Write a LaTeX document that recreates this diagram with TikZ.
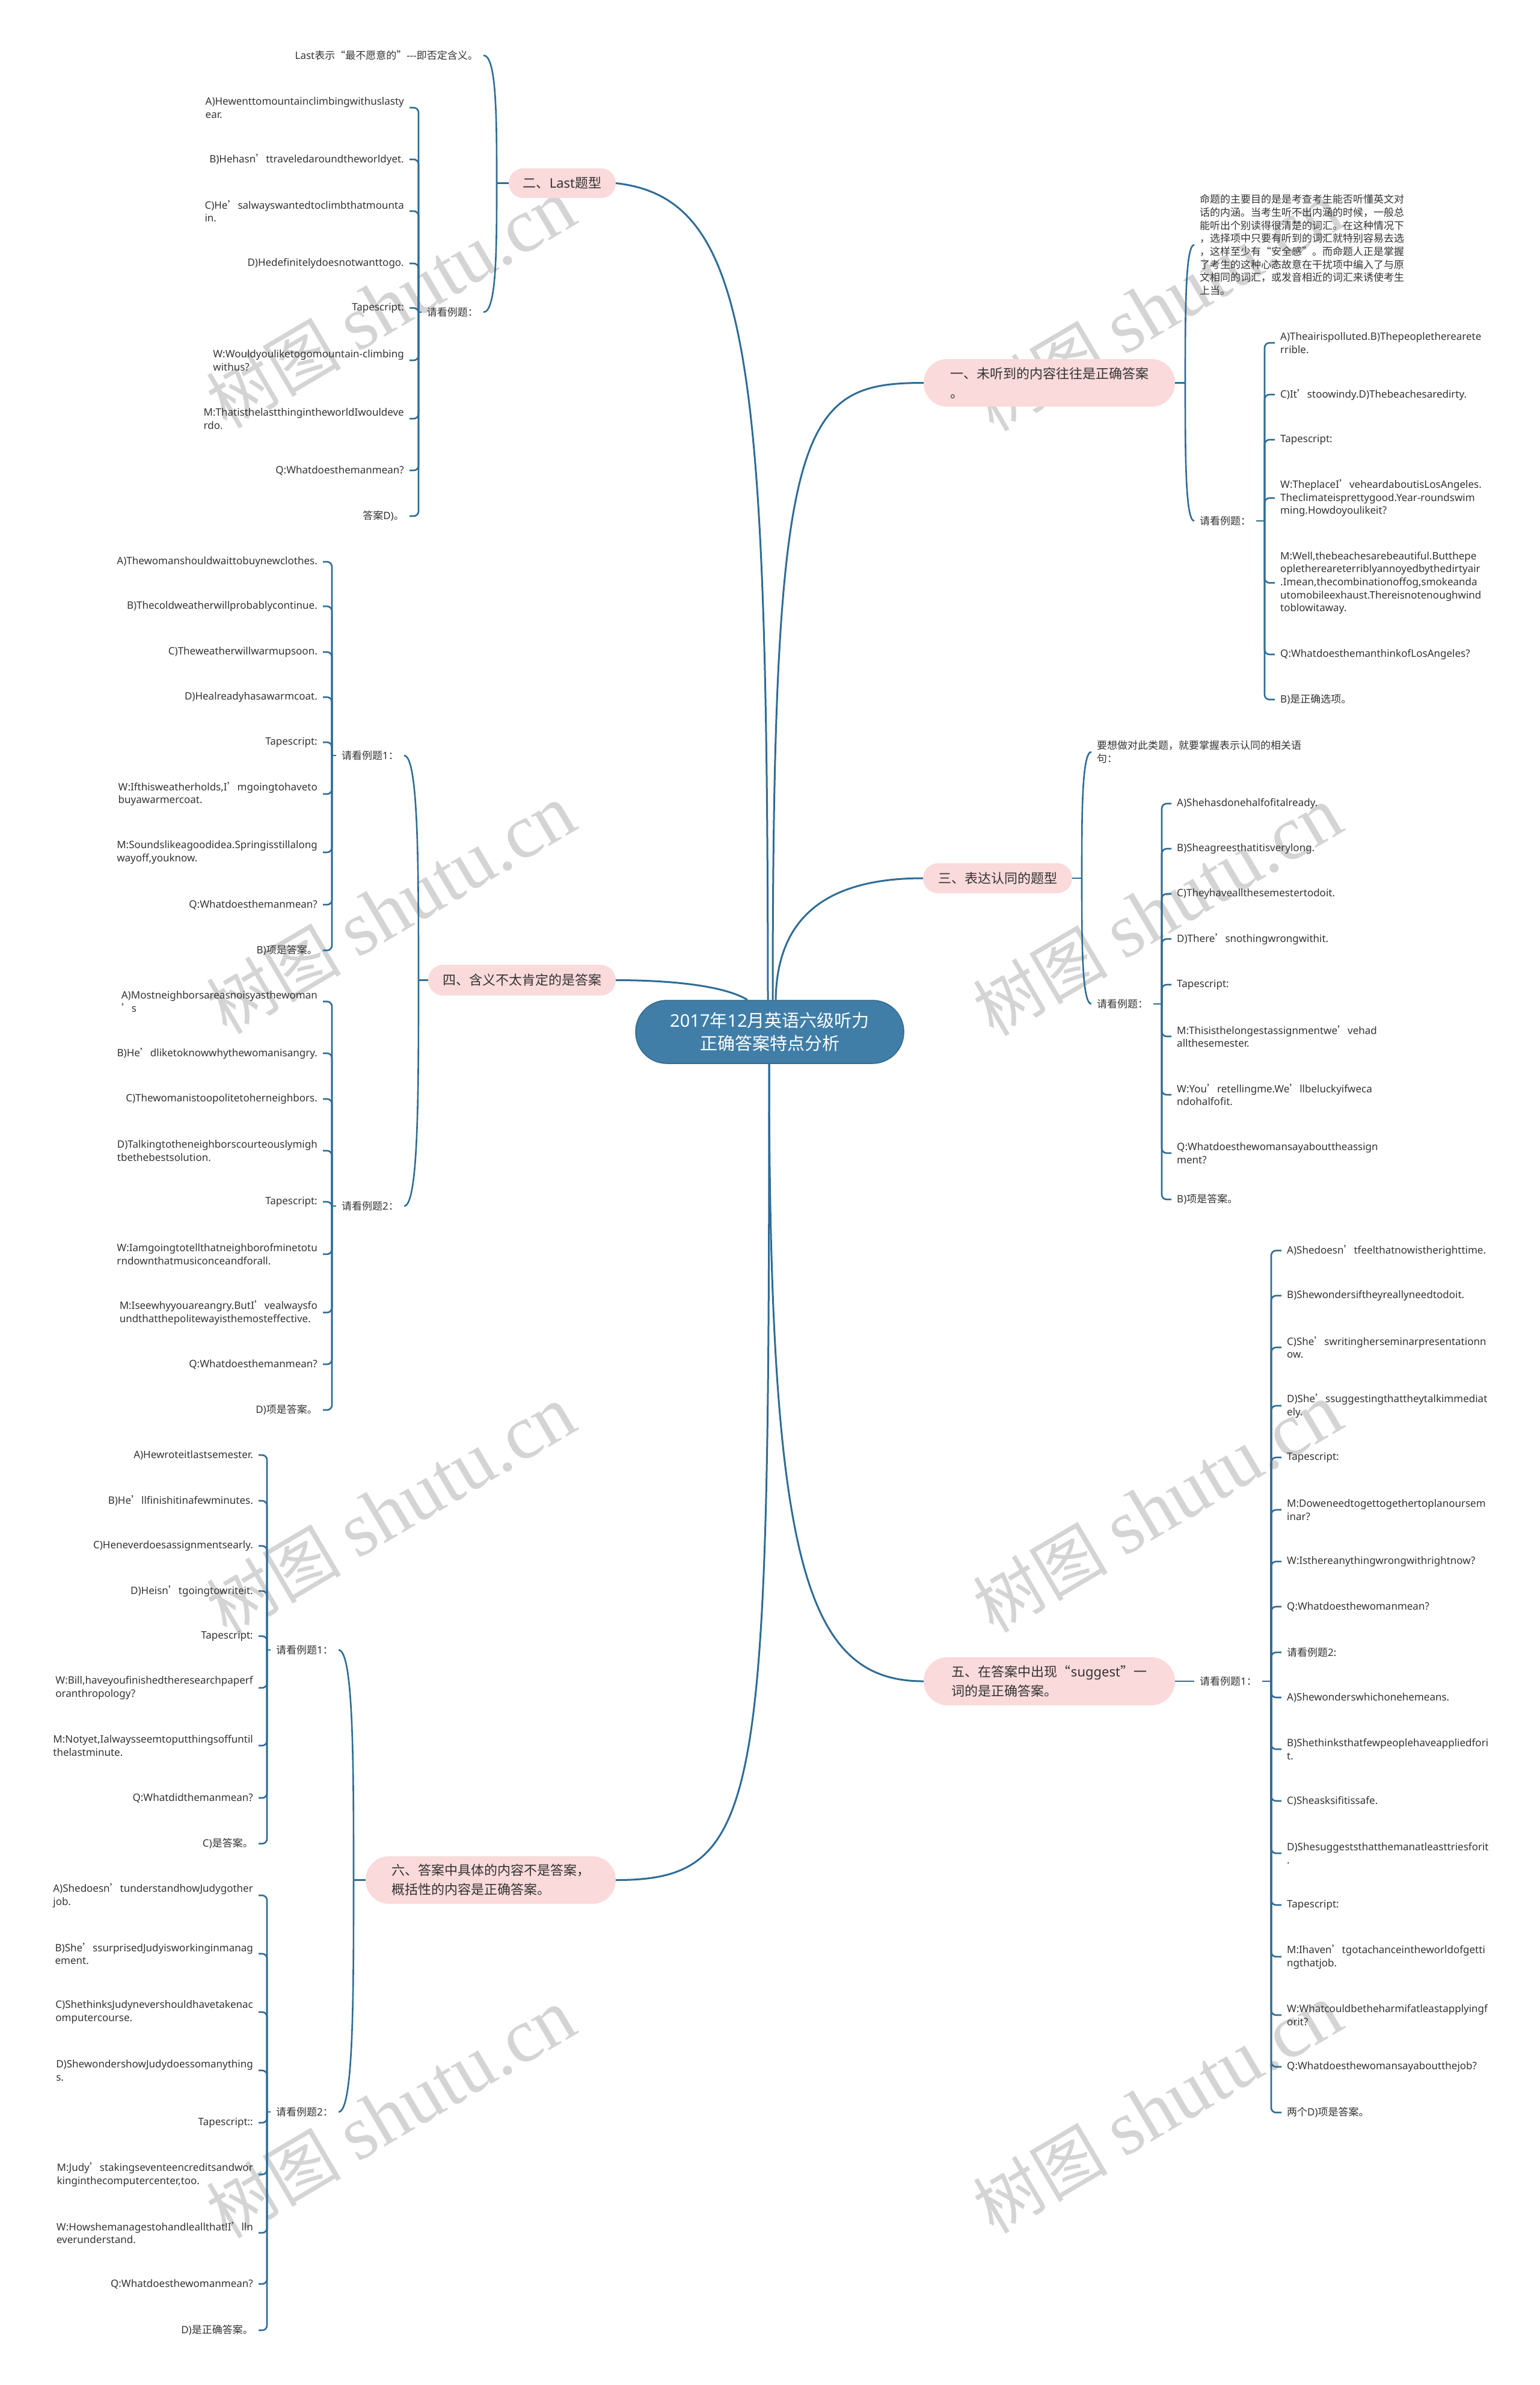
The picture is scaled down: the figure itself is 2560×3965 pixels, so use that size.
\documentclass[tikz,border=0pt]{standalone}
\usepackage{fontspec}
\setmainfont{Noto Sans}
\newfontfamily\cjkfont{Noto Sans CJK SC}
\newfontfamily\latinfont{Noto Sans}
\newfontfamily\wmserif{Liberation Serif}
\newXeTeXintercharclass\mycjkclass
\makeatletter
\newcommand\setcjkrange[2]{%
  \count@=#1\relax
  \loop
    \XeTeXcharclass\count@=\mycjkclass\relax
  \ifnum\count@<#2\relax
    \advance\count@\@ne
  \repeat}
\makeatother
\setcjkrange{"2018}{"201F}
\setcjkrange{"3000}{"303F}
\setcjkrange{"4E00}{"9FFF}
\setcjkrange{"FF00}{"FFEF}
\XeTeXinterchartoks 0 \mycjkclass = {\cjkfont}
\XeTeXinterchartoks 4095 \mycjkclass = {\cjkfont}
\XeTeXinterchartoks \mycjkclass 0 = {\latinfont}
\XeTeXinterchartoks 4095 0 = {\latinfont}
\XeTeXinterchartokenstate=1
\definecolor{lineblue}{HTML}{2E6C96}
\definecolor{rootblue}{HTML}{407EA7}
\definecolor{rootedge}{HTML}{35698C}
\definecolor{pinkfill}{HTML}{FADADB}
\definecolor{txt}{HTML}{333333}
\definecolor{wmgray}{HTML}{D4D4D4}
\tikzset{
  conn/.style={draw=lineblue, line width=2.6pt},
  mainconn/.style={draw=lineblue, line width=3pt},
  brk/.style={conn, rounded corners=8pt},
  lf/.style={font=\latinfont\fontsize{17pt}{21.7pt}\selectfont, text=txt, align=left, inner xsep=9pt, inner ysep=1pt},
  lfR/.style={lf, anchor=west},
  lfL/.style={lf, anchor=east},
  topic/.style={fill=pinkfill, text=txt, font=\latinfont\fontsize{22pt}{32pt}\selectfont, align=left, inner sep=0pt},
  root/.style={fill=rootblue, draw=rootedge, line width=1.5pt, text=white, font=\latinfont\fontsize{29pt}{38pt}\selectfont, align=center, minimum width=446pt, minimum height=105pt, rounded corners=52pt, inner sep=0pt},
  wm/.style={text=wmgray, rotate=30.5, inner sep=0pt}
}
\newcommand\wmtext{{\XeTeXinterchartokenstate=0 \cjkfont\fontsize{112pt}{112pt}\selectfont 树图\hspace{28pt}\wmserif\fontsize{128pt}{128pt}\selectfont shutu.cn}}
\begin{document}
\begin{tikzpicture}[x=1pt,y=-1pt]
\fill[white] (0,0) rectangle (2560,3965);
\useasboundingbox (0,0) rectangle (2560,3965);
% watermarks
\node[wm] (w1) at (650,505) {\wmtext};
\node[wm] (w2) at (1925,510) {\wmtext};
\node[wm] (w3) at (650,1512) {\wmtext};
\node[wm] (w4) at (1925,1515) {\wmtext};
\node[wm] (w5) at (650,2511) {\wmtext};
\node[wm] (w6) at (1925,2507) {\wmtext};
\node[wm] (w7) at (650,3514) {\wmtext};
\node[wm] (w8) at (1925,3506) {\wmtext};

% root
\node[root] (c) at (1280,1715.5) {2017年12月英语六级听力\\正确答案特点分析};

% topics
\node[topic, minimum width=178pt, minimum height=49pt, rounded corners=24pt] (b2) at (935,304.5) {二、Last题型};
\node[topic, minimum width=418pt, minimum height=79pt, rounded corners=39pt] (b1) at (1745,636.5) {一、未听到的内容往往是正确答案\\。};
\node[topic, minimum width=248pt, minimum height=50pt, rounded corners=25pt] (b3) at (1659,1460) {三、表达认同的题型};
\node[topic, minimum width=312pt, minimum height=51pt, rounded corners=25pt] (b4) at (868,1629.5) {四、含义不太肯定的是答案};
\node[topic, minimum width=418pt, minimum height=80pt, rounded corners=40pt] (b5) at (1745,2795) {五、在答案中出现“suggest”一\\词的是正确答案。};
\node[topic, minimum width=416pt, minimum height=79pt, rounded corners=39pt] (b6) at (816,3125.5) {六、答案中具体的内容不是答案，\\概括性的内容是正确答案。};

% main connectors
\draw[mainconn] ([xshift=-3pt]c.north) .. controls (1276,600) and (1250,330) .. (b2.east);
\draw[mainconn] ([xshift=5pt]c.north) .. controls (1285,700) and (1330,636.5) .. (b1.west);
\draw[mainconn] ([xshift=10pt]c.north) .. controls (1292,1520) and (1380,1460) .. (b3.west);
\draw[mainconn] ([xshift=-37pt]c.north) .. controls (1200,1636) and (1100,1629.5) .. (b4.east);
\draw[mainconn] ([xshift=-1pt]c.south) .. controls (1279,2600) and (1340,2795) .. (b5.west);
\draw[mainconn] ([xshift=-1pt]c.south) .. controls (1279,3000) and (1270,3125.5) .. (b6.east);

% ===== 二 =====
\node[lfL] (n2a) at (804,92) {Last表示“最不愿意的”-{}-{}-即否定含义。};
\node[lfL] (n2b) at (804,519) {请看例题：};
\coordinate (j2) at (826,304.5);
\draw[conn] (b2.west) -- (j2);
\draw[conn] (j2) .. controls (826,198) and (826,92) .. (n2a.east);
\draw[conn] (j2) .. controls (826,412) and (826,519) .. (n2b.east);
\node[lfL] (l2a) at (681,179) {A)Hewenttomountainclimbingwithuslasty\\ear.};
\node[lfL] (l2b) at (681,265) {B)Hehasn’ttraveledaroundtheworldyet.};
\node[lfL] (l2c) at (681,351) {C)He’salwayswantedtoclimbthatmounta\\in.};
\node[lfL] (l2d) at (681,438) {D)Hedefinitelydoesnotwanttogo.};
\node[lfL] (l2e) at (681,512) {Tapescript:};
\node[lfL] (l2f) at (681,599) {W:Wouldyouliketogomountain-climbing\\withus?};
\node[lfL] (l2g) at (681,696) {M:ThatisthelastthingintheworldIwouldeve\\rdo.};
\node[lfL] (l2h) at (681,782) {Q:Whatdoesthemanmean?};
\node[lfL] (l2i) at (681,858) {答案D)。};
\coordinate (k2) at (696,519);
\draw[conn] (n2b.west) -- (k2);
\foreach \n in {l2a,l2b,l2c,l2d,l2e,l2f,l2g,l2h,l2i} \draw[brk] (k2) |- (\n.east);

% ===== 一 =====
\node[lfR] (n1a) at (1986,407) {命题的主要目的是是考查考生能否听懂英文对\\话的内涵。当考生听不出内涵的时候，一般总\\能听出个别读得很清楚的词汇。在这种情况下\\，选择项中只要有听到的词汇就特别容易去选\\，这样至少有“安全感”。而命题人正是掌握\\了考生的这种心态故意在干扰项中编入了与原\\文相同的词汇，或发音相近的词汇来诱使考生\\上当。};
\node[lfR] (n1b) at (1986,866) {请看例题：};
\coordinate (j1) at (1971,636.5);
\draw[conn] (b1.east) -- (j1);
\draw[conn] (j1) .. controls (1971,522) and (1971,407) .. (n1a.west);
\draw[conn] (j1) .. controls (1971,751) and (1971,866) .. (n1b.west);
\node[lfR] (l1a) at (2120,570) {A)Theairispolluted.B)Thepeopletherearete\\rrible.};
\node[lfR] (l1b) at (2120,656) {C)It’stoowindy.D)Thebeachesaredirty.};
\node[lfR] (l1c) at (2120,731) {Tapescript:};
\node[lfR] (l1d) at (2120,828) {W:TheplaceI’veheardaboutisLosAngeles.\\Theclimateisprettygood.Year-roundswim\\ming.Howdoyoulikeit?};
\node[lfR] (l1e) at (2120,969) {M:Well,thebeachesarebeautiful.Butthepe\\oplethereareterriblyannoyedbythedirtyair\\.Imean,thecombinationoffog,smokeanda\\utomobileexhaust.Thereisnotenoughwind\\toblowitaway.};
\node[lfR] (l1f) at (2120,1088) {Q:WhatdoesthemanthinkofLosAngeles?};
\node[lfR] (l1g) at (2120,1163) {B)是正确选项。};
\coordinate (k1) at (2103,866);
\draw[conn] (n1b.east) -- (k1);
\foreach \n in {l1a,l1b,l1c,l1d,l1e,l1f,l1g} \draw[brk] (k1) |- (\n.west);

% ===== 三 =====
\node[lfR] (n3a) at (1815,1250) {要想做对此类题，就要掌握表示认同的相关语\\句：};
\node[lfR] (n3b) at (1815,1669) {请看例题：};
\coordinate (j3) at (1799,1460);
\draw[conn] (b3.east) -- (j3);
\draw[conn] (j3) .. controls (1799,1355) and (1799,1250) .. (n3a.west);
\draw[conn] (j3) .. controls (1799,1564) and (1799,1669) .. (n3b.west);
\node[lfR] (l3a) at (1948,1336) {A)Shehasdonehalfofitalready.};
\node[lfR] (l3b) at (1948,1411) {B)Sheagreesthatitisverylong.};
\node[lfR] (l3c) at (1948,1486) {C)Theyhaveallthesemestertodoit.};
\node[lfR] (l3d) at (1948,1561) {D)There’snothingwrongwithit.};
\node[lfR] (l3e) at (1948,1637) {Tapescript:};
\node[lfR] (l3f) at (1948,1723) {M:Thisisthelongestassignmentwe’vehad\\allthesemester.};
\node[lfR] (l3g) at (1948,1820) {W:You’retellingme.We’llbeluckyifweca\\ndohalfofit.};
\node[lfR] (l3h) at (1948,1917) {Q:Whatdoesthewomansayabouttheassign\\ment?};
\node[lfR] (l3i) at (1948,1994) {B)项是答案。};
\coordinate (k3) at (1932,1669);
\draw[conn] (n3b.east) -- (k3);
\foreach \n in {l3a,l3b,l3c,l3d,l3e,l3f,l3g,l3h,l3i} \draw[brk] (k3) |- (\n.west);

% ===== 四 =====
\node[lfL] (n4a) at (672,1256) {请看例题1：};
\node[lfL] (n4b) at (672,2005) {请看例题2：};
\coordinate (j4) at (696,1629.5);
\draw[conn] (b4.west) -- (j4);
\draw[conn] (j4) .. controls (696,1443) and (696,1256) .. (n4a.east);
\draw[conn] (j4) .. controls (696,1817) and (696,2005) .. (n4b.east);
\node[lfL] (l4a) at (537,934) {A)Thewomanshouldwaittobuynewclothes.};
\node[lfL] (l4b) at (537,1008) {B)Thecoldweatherwillprobablycontinue.};
\node[lfL] (l4c) at (537,1084) {C)Theweatherwillwarmupsoon.};
\node[lfL] (l4d) at (537,1159) {D)Healreadyhasawarmcoat.};
\node[lfL] (l4e) at (537,1234) {Tapescript:};
\node[lfL] (l4f) at (537,1320) {W:Ifthisweatherholds,I’mgoingtohaveto\\buyawarmercoat.};
\node[lfL] (l4g) at (537,1417) {M:Soundslikeagoodidea.Springisstillalong\\wayoff,youknow.};
\node[lfL] (l4h) at (537,1504) {Q:Whatdoesthemanmean?};
\node[lfL] (l4i) at (537,1580) {B)项是答案。};
\coordinate (k4) at (552,1256);
\draw[conn] (n4a.west) -- (k4);
\foreach \n in {l4a,l4b,l4c,l4d,l4e,l4f,l4g,l4h,l4i} \draw[brk] (k4) |- (\n.east);
\node[lfL] (m4a) at (537,1665) {A)Mostneighborsareasnoisyasthewoman\\’s};
\node[lfL] (m4b) at (537,1751) {B)He’dliketoknowwhythewomanisangry.};
\node[lfL] (m4c) at (537,1827) {C)Thewomanistoopolitetoherneighbors.};
\node[lfL] (m4d) at (537,1913) {D)Talkingtotheneighborscourteouslymigh\\tbethebestsolution.};
\node[lfL] (m4e) at (537,1998) {Tapescript:};
\node[lfL] (m4f) at (537,2085) {W:Iamgoingtotellthatneighborofminetotu\\rndownthatmusiconceandforall.};
\node[lfL] (m4g) at (537,2182) {M:Iseewhyyouareangry.ButI’vealwaysfo\\undthatthepolitewayisthemosteffective.};
\node[lfL] (m4h) at (537,2268) {Q:Whatdoesthemanmean?};
\node[lfL] (m4i) at (537,2344) {D)项是答案。};
\coordinate (q4) at (552,2005);
\draw[conn] (n4b.west) -- (q4);
\foreach \n in {m4a,m4b,m4c,m4d,m4e,m4f,m4g,m4h,m4i} \draw[brk] (q4) |- (\n.east);

% ===== 五 =====
\node[lfR] (n5a) at (1986,2795) {请看例题1：};
\draw[conn] (b5.east) -- (n5a.west);
\node[lfR] (l5a) at (2131,2079) {A)Shedoesn’tfeelthatnowistherighttime.};
\node[lfR] (l5b) at (2131,2154) {B)Shewondersiftheyreallyneedtodoit.};
\node[lfR] (l5c) at (2131,2240) {C)She’swritingherseminarpresentationn\\ow.};
\node[lfR] (l5d) at (2131,2337) {D)She’ssuggestingthattheytalkimmediat\\ely.};
\node[lfR] (l5e) at (2131,2423) {Tapescript:};
\node[lfR] (l5f) at (2131,2510) {M:Doweneedtogettogethertoplanoursem\\inar?};
\node[lfR] (l5g) at (2131,2596) {W:Isthereanythingwrongwithrightnow?};
\node[lfR] (l5h) at (2131,2671) {Q:Whatdoesthewomanmean?};
\node[lfR] (l5i) at (2131,2747) {请看例题2:};
\node[lfR] (l5j) at (2131,2822) {A)Shewonderswhichonehemeans.};
\node[lfR] (l5k) at (2131,2908) {B)Shethinksthatfewpeoplehaveappliedfori\\t.};
\node[lfR] (l5l) at (2131,2994) {C)Sheasksifitissafe.};
\node[lfR] (l5m) at (2131,3081) {D)Shesuggeststhatthemanatleasttriesforit\\.};
\node[lfR] (l5n) at (2131,3167) {Tapescript:};
\node[lfR] (l5o) at (2131,3253) {M:Ihaven’tgotachanceintheworldofgetti\\ngthatjob.};
\node[lfR] (l5p) at (2131,3350) {W:Whatcouldbetheharmifatleastapplyingf\\orit?};
\node[lfR] (l5q) at (2131,3436) {Q:Whatdoesthewomansayaboutthejob?};
\node[lfR] (l5r) at (2131,3512) {两个D)项是答案。};
\coordinate (k5) at (2114,2795);
\draw[conn] (n5a.east) -- (k5);
\foreach \n in {l5a,l5b,l5c,l5d,l5e,l5f,l5g,l5h,l5i,l5j,l5k,l5l,l5m,l5n,l5o,l5p,l5q,l5r} \draw[brk] (k5) |- (\n.west);

% ===== 六 =====
\node[lfL] (n6a) at (563,2743) {请看例题1：};
\node[lfL] (n6b) at (563,3511) {请看例题2：};
\coordinate (j6) at (588,3125.5);
\draw[conn] (b6.west) -- (j6);
\draw[conn] (j6) .. controls (588,2934) and (588,2743) .. (n6a.east);
\draw[conn] (j6) .. controls (588,3318) and (588,3511) .. (n6b.east);
\node[lfL] (l6a) at (430,2419) {A)Hewroteitlastsemester.};
\node[lfL] (l6b) at (430,2495) {B)He’llfinishitinafewminutes.};
\node[lfL] (l6c) at (430,2570) {C)Heneverdoesassignmentsearly.};
\node[lfL] (l6d) at (430,2645) {D)Heisn’tgoingtowriteit.};
\node[lfL] (l6e) at (430,2720) {Tapescript:};
\node[lfL] (l6f) at (430,2806) {W:Bill,haveyoufinishedtheresearchpaperf\\oranthropology?};
\node[lfL] (l6g) at (430,2902) {M:Notyet,Ialwaysseemtoputthingsoffuntil\\thelastminute.};
\node[lfL] (l6h) at (430,2989) {Q:Whatdidthemanmean?};
\node[lfL] (l6i) at (430,3065) {C)是答案。};
\coordinate (k6) at (444,2743);
\draw[conn] (n6a.west) -- (k6);
\foreach \n in {l6a,l6b,l6c,l6d,l6e,l6f,l6g,l6h,l6i} \draw[brk] (k6) |- (\n.east);
\node[lfL] (m6a) at (430,3151) {A)Shedoesn’tunderstandhowJudygother\\job.};
\node[lfL] (m6b) at (430,3248) {B)She’ssurprisedJudyisworkinginmanag\\ement.};
\node[lfL] (m6c) at (430,3345) {C)ShethinksJudynevershouldhavetakenac\\omputercourse.};
\node[lfL] (m6d) at (430,3442) {D)ShewondershowJudydoessomanything\\s.};
\node[lfL] (m6e) at (430,3529) {Tapescript::};
\node[lfL] (m6f) at (430,3615) {M:Judy’stakingseventeencreditsandwor\\kinginthecomputercenter,too.};
\node[lfL] (m6g) at (430,3712) {W:Howshemanagestohandleallthat!I’lln\\everunderstand.};
\node[lfL] (m6h) at (430,3797) {Q:Whatdoesthewomanmean?};
\node[lfL] (m6i) at (430,3874) {D)是正确答案。};
\coordinate (q6) at (444,3511);
\draw[conn] (n6b.west) -- (q6);
\foreach \n in {m6a,m6b,m6c,m6d,m6e,m6f,m6g,m6h,m6i} \draw[brk] (q6) |- (\n.east);
\end{tikzpicture}
\end{document}
